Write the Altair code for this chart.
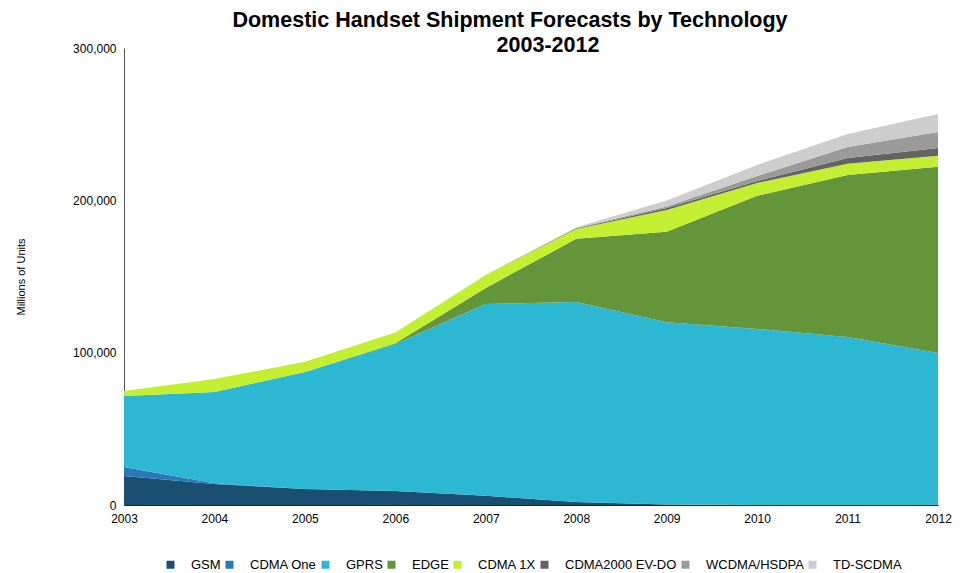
import altair as alt
import pandas as pd

years = [2003, 2004, 2005, 2006, 2007, 2008, 2009, 2010, 2011, 2012]
series = ["GSM", "CDMA One", "GPRS", "EDGE", "CDMA 1X", "CDMA2000 EV-DO", "WCDMA/HSDPA", "TD-SCDMA"]
gsm = [19000, 13800, 10500, 9200, 6000, 2000, 300, 0, 0, 0]
cdma_one = [6000, 500, 0, 0, 0, 0, 0, 0, 0, 0]
gprs = [46600, 59900, 76800, 96500, 126000, 131300, 119700, 115600, 110300, 99800]
edge = [0, 0, 0, 500, 10500, 41400, 59300, 87400, 106400, 122200]
cdma_1x = [3300, 8500, 6700, 7000, 8500, 6500, 14400, 8400, 7300, 7200]
evdo = [0, 0, 0, 0, 0, 300, 1200, 1300, 3800, 5200]
wcdma = [0, 0, 0, 0, 0, 300, 1000, 3300, 7200, 10500]
td_scdma = [0, 0, 0, 0, 0, 500, 4000, 7200, 8600, 11800]
colors = ["#1b4f72", "#2979b9", "#2cb8d3", "#65953b", "#c3ef30", "#636363", "#9a9a9a", "#cdcdcd"]

title_main = "Domestic Handset Shipment Forecasts by Technology"
title_years = ["2003-2012"]

values = [gsm, cdma_one, gprs, edge, cdma_1x, evdo, wcdma, td_scdma]
rows = []
for i, (name, vals) in enumerate(zip(series, values)):
    for y, v in zip(years, vals):
        rows.append({"year": y, "tech": name, "units": v, "idx": i})
df = pd.DataFrame(rows)

area = alt.Chart(df).mark_area(opacity=1).encode(
    x=alt.X("year:Q", scale=alt.Scale(domain=[2003, 2012], nice=False),
            axis=alt.Axis(values=years, format="d", title=None, grid=False, ticks=False,
                          labelFlush=False, labelPadding=8, domainColor="#222222", labelFontSize=12,
                          labelColor="#000000", labelFont="Liberation Sans")),
    y=alt.Y("units:Q", stack="zero", scale=alt.Scale(domain=[0, 300000], nice=False),
            axis=alt.Axis(values=[0, 100000, 200000, 300000], format=",.0f", title="Millions of Units",
                          grid=False, ticks=False, labelPadding=8, domainColor="#555555",
                          labelFlush=False,
                          labelFontSize=12, labelColor="#000000", labelFont="Liberation Sans",
                          titleFontSize=11, titleFontWeight="normal", titleFont="Liberation Sans",
                          titlePadding=46, titleColor="#000000")),
    color=alt.Color("tech:N", scale=alt.Scale(domain=series, range=colors),
                    legend=alt.Legend(orient="none", legendX=40, legendY=510,
                                      direction="horizontal", title=None,
                                      symbolType="square", symbolSize=64, symbolStrokeWidth=0,
                                      labelFontSize=13, labelFont="Liberation Sans",
                                      labelColor="#000000", columns=8, columnPadding=2,
                                      labelOffset=14, symbolOpacity=1)),
    order=alt.Order("idx:Q", sort="ascending"),
)

years_text = alt.Chart(pd.DataFrame({"t": title_years})).mark_text(
    fontSize=21.5, fontWeight="bold", font="Liberation Sans", color="#000000",
    align="center", baseline="alphabetic"
).encode(text="t:N", x=alt.value(424), y=alt.value(4))

chart = alt.layer(area, years_text).properties(
    width=814, height=457,
    autosize=alt.AutoSizeParams(type="none"),
    padding={"left": 116, "top": 40, "right": 20, "bottom": 70},
    title=alt.TitleParams(text=title_main,
                          fontSize=21.5, fontWeight="bold", font="Liberation Sans", color="#000000",
                          anchor="middle", dx=-21, offset=4),
).configure_view(stroke=None)

chart.save("out.html", embed_options={"renderer": "svg", "actions": False})
